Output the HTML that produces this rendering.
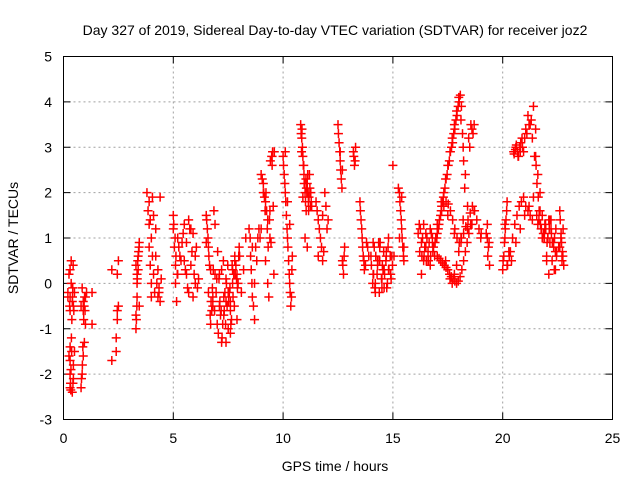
<!DOCTYPE html>
<html><head><meta charset="utf-8"><style>
body{margin:0;background:#fff;font-family:"Liberation Sans",sans-serif}
svg text{font-family:"Liberation Sans",sans-serif;font-size:14px;fill:#000}
</style></head><body>
<svg id="chart" width="640" height="480">
<text x="335" y="35" text-anchor="middle">Day 327 of 2019, Sidereal Day-to-day VTEC variation (SDTVAR) for receiver joz2</text>
<text x="335" y="471" text-anchor="middle">GPS time / hours</text>
<text x="18" y="238" text-anchor="middle" transform="rotate(-90 18 238)">SDTVAR / TECUs</text>
<g id="grid"></g><g id="ticks"></g><g id="marks"></g>
<rect x="63.5" y="56.5" width="549" height="363" fill="none" stroke="#000"/>
</svg>
<script>
const xTicks=[0,5,10,15,20,25];
const yTicks=[-3,-2,-1,0,1,2,3,4,5];
// points: [hour, SDTVAR]
const times=[0.2,0.25,0.3,0.3,0.3,0.3,0.3,0.3,0.3,0.35,0.35,0.4,0.4,0.45,0.45,0.45,0.5,0.5,0.2,0.25,
0.8,0.85,0.9,0.9,0.95,1.0,1.0,1.05,0.8,0.85,0.9,1.3,1.3,2.2,2.2,2.4,2.4,2.45,2.45,2.5,2.5,2.45,
3.3,3.3,3.35,3.35,3.4,3.4,3.45,3.45,3.3,3.35,
3.8,3.85,3.9,3.9,3.95,4.0,4.0,4.05,4.1,4.2,4.3,4.35,4.4,4.4,4.45,4.2,4.3,
5.0,5.0,5.05,5.1,5.1,5.15,5.2,5.2,5.3,5.4,5.5,5.5,5.6,5.6,5.7,5.7,5.8,5.8,5.9,5.9,6.0,6.0,6.1,
6.5,6.55,6.6,6.65,6.7,6.75,6.8,6.85,6.9,6.6,6.7,6.8,6.9,6.5,
7.0,7.1,7.2,7.3,7.4,7.5,7.6,7.7,7.8,7.9,8.0,7.2,7.4,7.6,7.8,7.3,7.5,7.7,7.1,7.9,8.1,8.2,8.3,7.6,7.4,
8.5,8.55,8.6,8.7,8.8,8.9,8.6,8.7,
9.0,9.1,9.2,9.3,9.4,9.5,9.6,9.2,9.3,9.4,9.1,9.5,9.0,9.35,
10.0,10.05,10.1,10.15,10.2,10.25,10.3,10.35,10.4,10.1,10.2,10.3,
10.8,10.85,10.9,10.95,11.0,11.05,11.1,11.15,11.2,11.25,11.3,10.9,11.0,11.1,
11.5,11.6,11.7,11.8,11.9,12.0,11.6,11.8,
12.5,12.55,12.6,12.65,12.7,12.75,12.8,12.6,12.7,13.2,13.25,13.3,
13.5,13.55,13.6,13.65,13.7,13.8,13.9,
14.0,14.1,14.2,14.3,14.4,14.5,14.6,14.7,14.8,14.9,14.2,14.4,14.6,14.8,14.1,14.3,14.5,14.7,
15.0,15.05,15.3,15.35,15.4,15.45,15.5,15.4,15.3,
16.2,16.3,16.4,16.5,16.6,16.7,16.8,16.9,16.4,16.6,16.8,16.3,16.5,16.7,
17.0,17.1,17.2,17.3,17.4,17.5,17.6,17.7,17.8,17.9,18.0,18.1,18.2,18.3,
17.4,17.5,17.6,17.7,17.8,17.9,18.0,18.1,18.2,18.4,18.6,
17.2,17.5,17.8,18.1,18.4,18.7,19.0,18.5,18.6,18.7,19.3,19.35,19.4,19.3,
20.0,20.05,20.1,20.15,20.2,20.3,20.1,20.2,20.5,20.6,20.7,20.8,20.9,21.0,21.1,21.2,21.3,21.4,21.5,
20.4,20.6,20.8,21.0,21.2,21.4,
21.5,21.6,21.7,21.8,21.9,22.0,22.1,22.2,22.3,22.4,21.6,21.8,22.0,22.2,22.4,21.7,21.9,22.1,22.3,
22.6,22.65,22.7,22.75,22.7,22.6,
// denser tracks
0.32,0.34,0.36,0.38,0.42,0.44,0.28,0.33,0.37,0.41,0.43,0.47,
0.82,0.86,0.88,0.92,0.94,0.96,0.98,
3.32,3.34,3.36,3.38,3.42,3.44,3.9,3.95,4.0,4.05,4.1,4.15,4.25,4.35,
5.02,5.08,5.12,5.18,5.25,5.35,5.45,5.55,5.65,5.75,5.85,5.95,6.05,6.15,
6.52,6.58,6.62,6.68,6.72,6.78,6.82,6.88,6.95,6.98,
7.05,7.15,7.25,7.35,7.45,7.55,7.65,7.75,7.85,7.95,7.02,7.12,7.22,7.32,7.42,7.52,7.62,7.72,7.82,7.92,8.02,7.08,7.18,7.28,7.38,7.48,7.58,7.68,7.78,7.88,7.98,
8.45,8.52,8.58,8.65,8.75,8.85,8.95,
9.05,9.12,9.18,9.22,9.28,9.32,9.38,9.42,9.48,9.52,9.55,9.58,9.15,9.25,9.45,
10.02,10.08,10.12,10.18,10.22,10.28,10.32,10.38,10.42,
10.82,10.88,10.92,10.98,11.02,11.08,11.12,11.18,11.22,11.28,10.86,10.94,11.04,11.14,11.24,10.84,10.96,11.06,11.16,11.26,
11.55,11.65,11.75,11.85,11.95,12.05,
12.52,12.58,12.62,12.68,12.72,12.78,13.22,13.28,13.52,13.58,13.62,13.68,13.75,13.85,
14.02,14.08,14.12,14.18,14.22,14.28,14.32,14.38,14.42,14.48,14.52,14.58,14.62,14.68,14.72,14.78,14.82,14.88,14.92,14.98,14.15,14.35,14.55,14.75,14.95,
15.32,15.38,15.42,15.48,15.25,15.5,
16.15,16.25,16.35,16.45,16.55,16.65,16.75,16.85,16.95,16.22,16.32,16.42,16.52,16.62,16.72,16.82,16.92,
17.02,17.07,17.12,17.17,17.22,17.27,17.32,17.37,17.42,17.47,17.52,17.57,17.62,17.67,17.72,17.77,17.82,17.87,17.92,17.97,18.02,18.07,18.12,18.17,18.22,18.27,
17.02,17.1,17.18,17.26,17.34,17.42,17.5,17.58,17.66,17.74,17.82,17.9,17.98,18.06,18.14,18.22,18.3,18.38,18.46,18.54,
17.02,17.12,17.22,17.32,17.42,17.52,17.62,17.72,17.82,17.92,18.02,18.12,18.22,18.32,18.42,18.52,18.62,18.72,18.82,18.92,19.02,
18.45,18.55,18.65,19.25,19.32,19.38,
20.02,20.08,20.12,20.18,20.22,20.28,20.52,20.58,20.62,20.68,20.72,20.78,20.82,20.88,20.95,21.05,21.15,21.25,21.35,21.45,
20.35,20.45,20.55,20.65,20.75,20.85,20.95,21.05,21.15,21.25,21.35,
21.52,21.56,21.62,21.66,21.72,21.76,21.82,21.86,21.92,21.96,22.02,22.06,22.12,22.16,22.22,22.26,22.32,22.36,22.42,22.46,
21.55,21.65,21.75,21.85,21.95,22.05,22.15,22.25,22.35,22.45,22.55,
22.62,22.68,22.72,22.78,22.66,22.74];
const values=[-0.2,-1.6,-2.3,-2.0,-1.7,-1.4,-0.6,-0.3,0.3,0.0,0.5,-2.4,-0.4,-2.1,-1.8,-0.5,-1.5,-0.2,-0.3,0.2,
-2.3,-2.0,-1.6,-0.6,-1.3,-0.9,-0.3,-0.2,-0.5,-0.1,-0.4,-0.9,-0.2,-1.7,0.3,-1.5,-1.2,-0.8,0.2,-0.5,0.5,-0.6,
-1.0,-0.7,-0.3,0.0,0.3,0.6,0.9,-0.5,0.4,0.2,
2.0,1.6,1.3,0.8,0.4,0.0,-0.3,1.9,1.5,1.2,0.3,-0.1,-0.4,1.9,0.1,0.6,-0.3,
1.5,1.2,0.8,0.4,0.0,-0.4,1.0,0.2,0.6,0.9,1.3,0.5,0.9,0.2,-0.2,1.4,1.2,0.4,-0.3,1.1,0.6,0.0,-0.1,
1.5,1.2,0.8,0.4,-0.9,-0.6,-0.3,1.6,1.3,-0.2,0.3,-0.5,0.2,0.9,
-0.9,-0.5,-1.3,-0.3,0.1,-1.0,-0.6,0.0,0.5,0.2,0.8,0.3,-0.4,-1.1,0.6,-0.7,-0.2,0.3,0.2,-0.8,-0.2,0.3,1.0,-0.4,-1.3,
1.0,0.3,-0.3,-0.8,0.5,1.2,0.8,0.0,
2.4,2.2,1.8,1.4,1.0,2.6,2.9,0.5,0.0,1.6,2.0,2.8,1.2,-0.3,
2.8,2.4,2.0,1.5,1.0,0.5,0.0,-0.5,0.3,2.9,1.8,1.3,
3.5,3.2,2.8,2.4,2.0,1.6,2.2,1.8,2.4,2.0,1.7,1.9,1.0,0.8,
1.8,1.4,1.0,0.5,2.0,1.2,0.6,1.5,
3.5,3.1,2.7,2.3,0.5,0.2,0.8,2.9,2.5,2.9,2.6,3.0,
1.8,1.4,1.0,0.6,0.3,0.9,0.6,
0.6,0.2,-0.2,0.4,0.8,-0.1,0.3,0.6,1.0,0.2,0.0,0.5,-0.1,0.3,0.9,0.5,0.1,0.7,
2.6,0.6,2.0,1.6,1.2,0.8,0.5,1.9,1.0,
1.3,0.9,0.5,1.1,0.7,1.2,0.9,0.6,1.3,0.5,1.0,0.2,0.8,0.4,
1.0,1.3,1.6,1.9,2.3,2.6,2.9,3.2,3.5,3.8,4.1,3.6,3.0,2.4,
0.5,0.3,0.1,0.0,0.2,0.4,0.7,1.0,1.4,1.7,1.3,
1.8,1.5,1.1,0.9,1.2,1.6,1.0,3.0,3.4,3.5,1.3,0.8,0.4,1.0,
0.3,0.6,1.0,1.4,1.8,0.6,1.3,0.4,2.9,3.0,2.8,2.9,3.0,3.2,3.3,3.5,3.6,3.9,3.4,
0.5,0.9,1.2,1.5,1.7,1.9,
2.8,2.4,2.0,1.5,1.0,0.5,0.2,1.2,0.9,0.7,1.3,1.0,0.6,1.4,0.3,1.6,1.1,1.4,0.9,
1.6,1.0,0.6,1.2,0.5,0.8,
-2.2,-1.9,-1.2,-0.8,-0.1,0.4,-0.5,-2.35,-1.5,-0.3,-2.2,-0.6,
-2.1,-1.8,-1.4,-0.8,-0.5,-0.3,-0.6,
-0.8,-0.5,0.1,0.5,0.7,0.8,1.8,1.4,1.0,0.6,0.2,-0.2,0.0,-0.2,
1.3,1.0,0.6,0.2,0.8,0.5,1.1,0.3,-0.1,1.2,0.7,0.2,0.8,0.1,
1.4,1.0,0.6,-0.7,-0.4,-0.1,0.3,-0.6,-0.2,0.1,
-1.1,-0.7,-0.9,-0.2,-0.5,-0.2,-0.8,0.2,0.4,0.0,0.7,-0.4,-1.2,-0.6,0.0,-0.4,-0.9,-0.3,0.2,-0.1,0.6,0.1,-0.6,0.5,-0.9,0.4,-0.1,0.4,-0.5,0.1,0.6,
1.2,0.6,0.0,-0.5,0.8,1.0,1.0,
2.3,2.0,1.6,2.0,1.2,0.8,1.4,2.7,2.8,2.9,1.7,0.2,1.9,1.6,0.9,
2.6,2.2,1.8,1.2,0.8,0.2,-0.2,-0.3,0.6,
3.3,3.0,2.6,2.2,1.8,2.0,2.4,1.9,2.1,1.8,3.4,2.6,2.3,2.0,1.7,2.9,2.2,2.1,1.6,2.0,
1.6,1.2,0.8,0.7,1.7,1.4,
3.3,2.9,2.5,2.1,0.4,0.6,2.8,2.7,1.6,1.2,0.8,0.5,0.4,0.8,
0.4,0.0,0.2,-0.1,0.6,0.2,0.5,-0.2,0.9,0.1,0.4,0.7,0.2,0.5,-0.1,0.8,0.3,0.6,0.1,0.4,0.8,0.9,0.3,0.0,0.6,
1.8,1.4,1.0,0.6,2.1,0.8,
1.1,1.2,1.0,0.8,1.0,0.9,1.1,0.8,1.0,0.7,0.6,0.6,0.5,0.5,0.6,0.7,0.9,
1.1,1.2,1.4,1.5,1.7,1.8,2.0,2.1,2.3,2.4,2.6,2.7,2.9,3.0,3.1,3.3,3.4,3.6,3.7,3.9,4.0,4.15,3.9,3.3,2.7,2.1,
0.6,0.55,0.5,0.45,0.4,0.35,0.3,0.2,0.15,0.1,0.05,0.0,0.05,0.15,0.3,0.5,0.7,0.9,1.1,1.3,
1.3,1.4,1.6,1.7,1.8,1.75,1.6,1.4,1.2,1.0,0.9,1.0,1.1,1.25,1.4,1.55,1.7,1.6,1.4,1.2,1.1,
3.2,3.5,3.3,1.1,0.6,0.9,
0.5,0.9,1.2,1.6,0.4,0.7,2.85,2.95,3.05,2.9,2.8,3.0,3.1,3.2,2.9,3.4,3.7,3.5,3.2,2.8,
0.7,1.0,1.3,1.5,1.7,1.8,1.9,1.7,1.6,1.5,1.4,
2.6,2.2,1.9,1.6,1.3,1.2,1.0,1.1,1.3,1.2,0.9,1.0,1.2,1.4,1.1,0.9,0.8,1.0,1.2,0.7,
1.5,1.4,1.2,1.1,1.3,1.0,0.9,0.5,0.3,0.6,0.8,
1.4,0.9,0.7,0.4,1.1,0.6];
const X0=63.5,X1=612.5,Y0=419.5,Y1=56.5;
const sx=t=>X0+(t-0)/(25-0)*(X1-X0);
const sy=v=>Y0-(v+3)/(5+3)*(Y0-Y1);
const NS='http://www.w3.org/2000/svg';
const grid=document.getElementById('grid'),ticks=document.getElementById('ticks'),marks=document.getElementById('marks');
function mk(tag,attrs,parent){const e=document.createElementNS(NS,tag);for(const k in attrs)e.setAttribute(k,attrs[k]);parent.appendChild(e);return e;}
xTicks.forEach(t=>{const x=sx(t);
 if(t>0&&t<25){const g=mk('line',{x1:x,x2:x,y1:Y1,y2:Y0,stroke:'#a0a0a0','stroke-dasharray':'2,3'},grid);
 
 }
 mk('line',{x1:x,x2:x,y1:Y0,y2:Y0-7,stroke:'#000'},ticks);mk('line',{x1:x,x2:x,y1:Y1,y2:Y1+7,stroke:'#000'},ticks);
 const l=mk('text',{x:x,y:443,'text-anchor':'middle'},ticks);l.textContent=t;
 
 });
yTicks.forEach(v=>{const y=sy(v);
 if(v>-3&&v<5){const g=mk('line',{x1:X0,x2:X1,y1:y,y2:y,stroke:'#a0a0a0','stroke-dasharray':'2,3'},grid);
 
 }
 mk('line',{x1:X0,x2:X0+7,y1:y,y2:y,stroke:'#000'},ticks);mk('line',{x1:X1,x2:X1-7,y1:y,y2:y,stroke:'#000'},ticks);
 const l=mk('text',{x:52,y:y+5,'text-anchor':'end'},ticks);l.textContent=v;
 
 });
let d='';
const n=Math.min(times.length,values.length);
for(let i=0;i<n;i++){const x=sx(times[i]),y=sy(values[i]);d+=`M${x-4.5},${y}h9M${x},${y-4.5}v9`;}
const p=mk('path',{d:d,stroke:'#ff0000','stroke-width':1.5,fill:'none'},marks);


</script>
</body></html>
